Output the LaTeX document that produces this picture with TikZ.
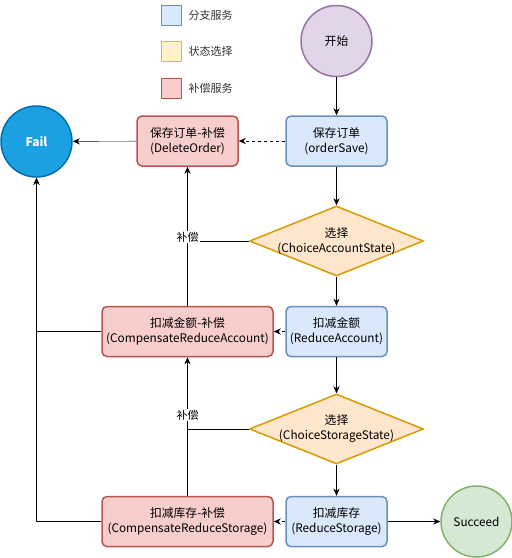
\documentclass[tikz,border=0pt]{standalone}
\usepackage{fontspec}
\setmainfont{Noto Sans CJK SC}
\usetikzlibrary{arrows.meta,shapes.geometric}
\definecolor{svcfill}{HTML}{DAE8FC} \definecolor{svcline}{HTML}{6C8EBF}
\definecolor{compfill}{HTML}{F8CECC} \definecolor{compline}{HTML}{B85450}
\definecolor{choicefill}{HTML}{FFE6CC} \definecolor{choiceline}{HTML}{D79B00}
\definecolor{legfill}{HTML}{FFF2CC} \definecolor{legline}{HTML}{D6B656}
\definecolor{startfill}{HTML}{E1D5E7} \definecolor{startline}{HTML}{9673A6}
\definecolor{failfill}{HTML}{1BA1E2} \definecolor{failline}{HTML}{006EAF}
\definecolor{okfill}{HTML}{D5E8D4} \definecolor{okline}{HTML}{82B366}
\begin{document}
\begin{tikzpicture}[x=1pt,y=-1pt,>={Stealth[length=7pt,width=6pt]}, font=\fontsize{11.8}{15}\selectfont, line join=round,
	svc/.style={rectangle,rounded corners=5pt,draw=svcline,fill=svcfill,line width=1.5pt,minimum width=101pt,minimum height=50pt,align=center,inner sep=1pt},
	comp/.style={svc,draw=compline,fill=compfill},
	choice/.style={diamond,draw=choiceline,fill=choicefill,line width=1.5pt,minimum width=174pt,minimum height=70pt,inner sep=0pt},
	round/.style={circle,line width=1.5pt,minimum size=71pt,inner sep=0pt},
	legbox/.style={rectangle,line width=1pt,minimum size=20pt,inner sep=0pt},
	legtext/.style={anchor=west,text=black!80,font=\fontsize{11}{14}\selectfont},
	edgetext/.style={fill=white,inner sep=1pt,font=\fontsize{11}{14}\selectfont}]
	\useasboundingbox (0,0) rectangle (512,558);
	\def\xm{336.5} \def\xc{187.5}
	% legend
	\node[legbox,draw=svcline,fill=svcfill] (lsvc) at (171.5,15) {};
	\node[legtext] (tsvc) at (185,15) {分支服务};
	\node[legbox,draw=legline,fill=legfill] (lchoice) at (171.5,51.5) {};
	\node[legtext] (tchoice) at (185,51.5) {状态选择};
	\node[legbox,draw=compline,fill=compfill] (lcomp) at (171.5,88) {};
	\node[legtext] (tcomp) at (185,88) {补偿服务};
	% main line
	\node[round,draw=startline,fill=startfill] (start) at (\xm,41) {开始};
	\node[svc] (save) at (\xm,141) {保存订单\\(orderSave)};
	\node[choice] (d1) at (\xm,241) {};
	\node (d1text) at (d1) [align=center] {选择\\(ChoiceAccountState)};
	\node[svc] (acc) at (\xm,331.5) {扣减金额\\(ReduceAccount)};
	\node[choice] (d2) at (\xm,429) {};
	\node (d2text) at (d2) [align=center] {选择\\(ChoiceStorageState)};
	\node[svc] (sto) at (\xm,521.5) {扣减库存\\(ReduceStorage)};
	\node[round,draw=okline,fill=okfill] (ok) at (476.5,521.5) {Succeed};
	% compensation
	\node[comp] (delorder) at (\xc,141) {保存订单-补偿\\(DeleteOrder)};
	\node[comp,minimum width=171pt] (compacc) at (\xc,331.5) {扣减金额-补偿\\(CompensateReduceAccount)};
	\node[comp,minimum width=171pt] (compsto) at (\xc,521.5) {扣减库存-补偿\\(CompensateReduceStorage)};
	\node[round,draw=failline,fill=failfill,text=white,font=\fontsize{12}{15}\selectfont\bfseries] (fail) at (36.5,141.5) {Fail};
	% connectors
	\draw[->] (start) -- (save);
	\draw[->] (save) -- (d1.north);
	\draw[->] (d1.south) -- (acc);
	\draw[->] (acc) -- (d2.north);
	\draw[->] (d2.south) -- (sto);
	\draw[->] (sto) -- (ok);
	\draw[->,dash pattern=on 3pt off 3pt] (save) -- (delorder);
	\draw[->,dash pattern=on 3pt off 3pt] (acc) -- (compacc);
	\draw[->,dash pattern=on 3pt off 3pt] (sto) -- (compsto);
	\draw[->] (delorder) -- (fail);
	\draw[->] (compacc.west) -| (fail.south);
	\draw[->] (compsto.west) -| (fail.south);
	\draw[->] (compacc.north) -- (delorder.south);
	\draw[->] (compsto.north) -- (compacc.south);
	\draw (d1.west) -- (d1.west -| delorder.south);
	\draw (d2.west) -- (d2.west -| compacc.south);
	\node[edgetext] (lab1) at (\xc,237) {补偿};
	\node[edgetext] (lab2) at (\xc,415) {补偿};
\end{tikzpicture}
\end{document}
